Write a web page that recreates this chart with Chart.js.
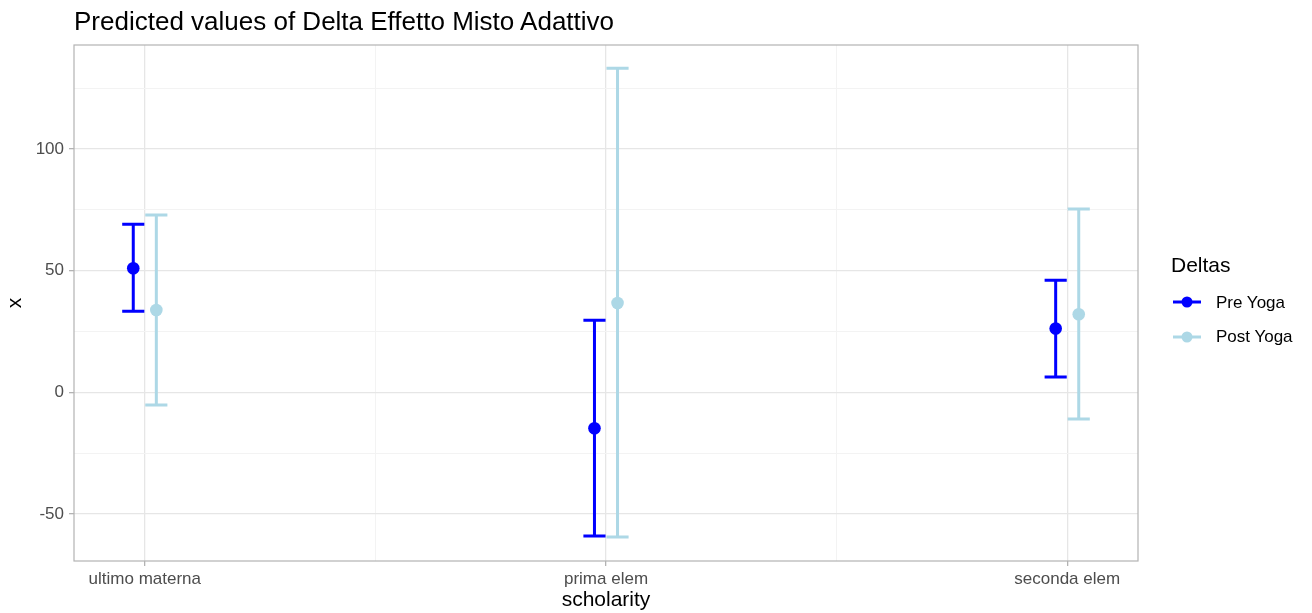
<!DOCTYPE html>
<html><head><meta charset="utf-8">
<script src="https://cdn.jsdelivr.net/npm/chart.js@4/dist/chart.umd.min.js"></script>
<style>
body{margin:0;background:#fff;}
#wrap{position:relative;width:1312px;height:613px;font-family:"Liberation Sans",Arial,sans-serif;overflow:hidden;}
canvas{position:absolute;left:0;top:0;}
#title{position:absolute;left:74px;top:8px;font-size:26px;line-height:26px;color:#000;white-space:nowrap;}
.lg{position:absolute;white-space:nowrap;color:#000;}
</style></head><body>
<div id="wrap">
<canvas id="c" width="1312" height="613"></canvas>
<div id="title">Predicted values of Delta Effetto Misto Adattivo</div>
<div id="legend"></div>
</div>
<script>
// ---- data ----
const categories = ['ultimo materna', 'prima elem', 'seconda elem'];
const seriesNames = ['Pre Yoga', 'Post Yoga'];
const seriesColors = ['#0000FF', '#ADD8E6'];
const preEstimate = [51.0, -14.8, 26.2];
const preLow      = [33.3, -59.1, 6.3];
const preHigh     = [69.1, 29.6, 46.1];
const postEstimate = [33.8, 36.7, 32.1];
const postLow      = [-5.2, -59.5, -11.0];
const postHigh     = [72.9, 133.2, 75.4];
const yTickLabels = [-50, 0, 50, 100];
const legendTitle = 'Deltas';

// ---- layout constants ----
const dodge = 0.025;
const capHalf = 0.024;
const xMin = -0.1535, xMax = 2.1535;
const yMin = -69.4, yMax = 142.8;

Chart.defaults.font.family = '"Liberation Sans", Arial, sans-serif';

function mkData(est, lo, hi, off) {
  return est.map((v, i) => ({ x: i + off, y: v, lo: lo[i], hi: hi[i] }));
}

const errorBarPlugin = {
  id: 'errorBars',
  beforeDatasetsDraw(chart) {
    const { ctx, scales: { x, y } } = chart;
    chart.data.datasets.forEach((ds, di) => {
      ctx.save();
      ctx.strokeStyle = ds.backgroundColor;
      ctx.lineWidth = 3;
      ctx.lineCap = 'butt';
      ds.data.forEach(pt => {
        const xc = x.getPixelForValue(pt.x);
        const xl = x.getPixelForValue(pt.x - capHalf);
        const xr = x.getPixelForValue(pt.x + capHalf);
        const yl = y.getPixelForValue(pt.lo);
        const yh = y.getPixelForValue(pt.hi);
        ctx.beginPath();
        ctx.moveTo(xc, yl); ctx.lineTo(xc, yh);
        ctx.moveTo(xl, yl); ctx.lineTo(xr, yl);
        ctx.moveTo(xl, yh); ctx.lineTo(xr, yh);
        ctx.stroke();
      });
      ctx.restore();
    });
  }
};

const borderPlugin = {
  id: 'panelBorder',
  afterDatasetsDraw(chart) {
    const { ctx, chartArea: a } = chart;
    ctx.save();
    ctx.strokeStyle = '#b3b3b3';
    ctx.lineWidth = 1.2;
    ctx.strokeRect(a.left, a.top, a.right - a.left, a.bottom - a.top);
    ctx.restore();
  }
};

const isMajorX = v => Math.abs(v - Math.round(v)) < 1e-6;
const isMajorY = v => yTickLabels.some(t => Math.abs(t - v) < 1e-6);

new Chart(document.getElementById('c'), {
  type: 'scatter',
  data: {
    datasets: [
      { label: seriesNames[0], data: mkData(preEstimate, preLow, preHigh, -dodge),
        backgroundColor: seriesColors[0], borderColor: seriesColors[0], pointRadius: 6.3, borderWidth: 0 },
      { label: seriesNames[1], data: mkData(postEstimate, postLow, postHigh, dodge),
        backgroundColor: seriesColors[1], borderColor: seriesColors[1], pointRadius: 6.3, borderWidth: 0 }
    ]
  },
  options: {
    responsive: false,
    animation: false,
    events: [],
    devicePixelRatio: 1,
    layout: { padding: { top: 45, right: 174, bottom: 0, left: 0 } },
    plugins: { legend: { display: false }, tooltip: { enabled: false }, title: { display: false } },
    scales: {
      x: {
        type: 'linear', min: xMin, max: xMax,
        afterFit: s => { s.height = 52; },
        ticks: {
          stepSize: 0.5, includeBounds: false, autoSkip: false, maxRotation: 0,
          color: '#4d4d4d', font: { size: 17 }, padding: 3,
          callback: v => isMajorX(v) ? categories[Math.round(v)] : ''
        },
        grid: {
          color: c => isMajorX(c.tick.value) ? '#e6e6e6' : '#f3f3f3',
          lineWidth: c => isMajorX(c.tick.value) ? 1.3 : 1,
          tickColor: c => isMajorX(c.tick.value) ? '#b3b3b3' : 'rgba(0,0,0,0)',
          tickLength: 5
        },
        border: { display: false },
        title: { display: true, text: 'scholarity', color: '#000', font: { size: 21 }, padding: { top: 0, bottom: 0 } }
      },
      y: {
        type: 'linear', min: yMin, max: yMax,
        afterFit: s => { s.width = 74; },
        ticks: {
          stepSize: 25, includeBounds: false, autoSkip: false,
          color: '#4d4d4d', font: { size: 17 }, padding: 5,
          callback: v => isMajorY(v) ? String(v) : ''
        },
        grid: {
          color: c => isMajorY(c.tick.value) ? '#e6e6e6' : '#f3f3f3',
          lineWidth: c => isMajorY(c.tick.value) ? 1.3 : 1,
          tickColor: c => isMajorY(c.tick.value) ? '#b3b3b3' : 'rgba(0,0,0,0)',
          tickLength: 5
        },
        border: { display: false },
        title: { display: true, text: 'x', color: '#000', font: { size: 21 }, padding: { top: 3, bottom: 0 } }
      }
    }
  },
  plugins: [errorBarPlugin, borderPlugin]
});

// ---- HTML legend ----
(function () {
  const lg = document.getElementById('legend');
  let html = '<div class="lg" style="left:1171px;top:254px;font-size:21px;line-height:21px;">' + legendTitle + '</div>';
  const keyY = [302, 337];
  const textTop = [294, 327.5];
  seriesNames.forEach((n, i) => {
    html += '<svg class="lg" style="left:1172px;top:' + (keyY[i] - 8) + 'px" width="30" height="16">' +
      '<line x1="1" y1="8" x2="29" y2="8" stroke="' + seriesColors[i] + '" stroke-width="3"/>' +
      '<circle cx="15" cy="8" r="5.5" fill="' + seriesColors[i] + '"/></svg>';
    html += '<div class="lg" style="left:1216px;top:' + textTop[i] + 'px;font-size:17px;line-height:17px;">' + n + '</div>';
  });
  lg.innerHTML = html;
})();
</script>
</body></html>
